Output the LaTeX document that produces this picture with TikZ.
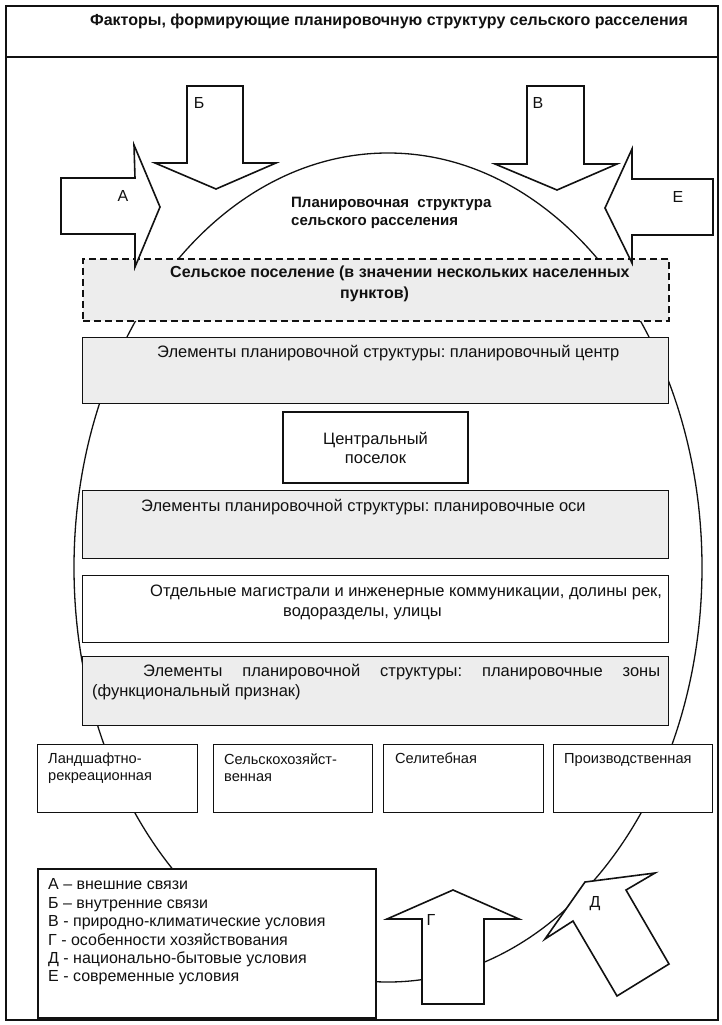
\documentclass[tikz,border=0pt]{standalone}
\usepackage{fontspec}
\setmainfont{Liberation Sans}
\frenchspacing
\usetikzlibrary{positioning}
\definecolor{ink}{HTML}{111111}
\definecolor{boxgrey}{HTML}{EDEDED}
\tikzset{
  basebox/.style={draw=ink,line width=1.2pt,fill=white,inner sep=0pt},
  greybox/.style={basebox,fill=boxgrey},
  dashbox/.style={greybox,dash pattern=on 7pt off 4pt,line width=1.8pt},
  bodytext/.style={font=\fontsize{16.5}{20}\selectfont,inner sep=0pt,text=ink},
  boldtext/.style={font=\fontsize{16}{21}\selectfont\bfseries,inner sep=0pt,text=ink},
  smalltext/.style={font=\fontsize{14.6}{17}\selectfont,inner sep=0pt,align=left,text=ink},
  blockarrow/.style={draw=ink,fill=white,line width=1.6pt,line join=miter},
  letter/.style={font=\fontsize{16}{16}\selectfont,inner sep=0pt,text=ink}
}

\begin{document}
\begin{tikzpicture}[x=1pt,y=-1pt,
    rowbox/.style={minimum width=586pt,anchor=north west},
    zonebox/.style={basebox,minimum width=160pt,minimum height=68pt,anchor=north west}
  ]
  \useasboundingbox (0,0) rectangle (722,1025);
  \fill[white] (0,0) rectangle (722,1025);

  \node[basebox,line width=1.8pt,minimum width=712pt,minimum height=1014pt,anchor=north west] (frame) at (5,5) {};
  \coordinate (ruleW) at (5,57);
  \coordinate (ruleE) at (717,57);
  \draw[ink,line width=1.8pt] (ruleW) -- (ruleE);
  \node[boldtext] (title) at (389,21) {Факторы, формирующие планировочную структуру сельского расселения};

  \draw[ink,line width=1.3pt] (388,567.5) ellipse [x radius=314,y radius=414.5];

  \node[boldtext,font=\fontsize{15}{18}\selectfont\bfseries,align=left,anchor=west] (planlabel) at (291,213) {Планировочная\ \ структура\\сельского расселения};

  \node[dashbox,rowbox,minimum height=62pt] (settlement) at (82,258) {};
  \node[boldtext,align=left,anchor=west] (settletext) at (170,283.5) {Сельское поселение (в значении нескольких населенных\\\hspace*{170pt}пунктов)};

  \node[greybox,rowbox,minimum height=66pt] (centrerow) at (82,337) {};
  \node[bodytext,anchor=west] (centretext) at (157,353) {Элементы планировочной структуры: планировочный центр};

  \node[basebox,bodytext,align=center,minimum width=185pt,minimum height=71pt] (village) at (375.5,447.5) {Центральный\\[-1pt]поселок};

  \node[greybox,rowbox,minimum height=68pt] (axesrow) at (82,490) {};
  \node[bodytext,anchor=west] (axestext) at (141,507) {Элементы планировочной структуры: планировочные оси};

  \node[basebox,rowbox,minimum height=67pt] (routes) at (82,575) {};
  \node[bodytext,align=left,anchor=west] (routestext) at (150,602) {Отдельные магистрали и инженерные коммуникации, долины рек,\\\hspace*{133pt}водоразделы, улицы};

  \node[greybox,rowbox,minimum height=69pt] (zonesrow) at (82,656) {};
  \node[bodytext,align=left,anchor=north west] (zonestext) at (92,664) {\hspace*{51pt}\makebox[517pt][s]{Элементы планировочной структуры: планировочные зоны}\\(функциональный признак)};

  \node[zonebox] (landscape) at (37,744) {};
  \node[zonebox,minimum width=159pt] (farming) at (213,744) {};
  \node[zonebox] (housing) at (383,744) {};
  \node[zonebox,minimum width=159pt] (industry) at (553,744) {};
  \node[smalltext,anchor=north west] (landtext) at (48,753) {Ландшафтно-\\рекреационная};
  \node[smalltext,anchor=north west] (farmtext) at (224,753) {Сельскохозяйст-\\венная};
  \node[smalltext,anchor=north west] (housetext) at (395,753) {Селитебная};
  \node[smalltext,anchor=north west] (indtext) at (564,753) {Производственная};

  \node[basebox,line width=1.8pt,minimum width=338pt,minimum height=149pt,anchor=north west] (legend) at (37,868) {};
  \node[bodytext,font=\fontsize{16}{18.4}\selectfont,align=left,anchor=west] (legendtext) at (48,932) {А – внешние связи\\Б – внутренние связи\\В - природно-климатические условия\\Г - особенности хозяйствования\\Д - национально-бытовые условия\\Е - современные условия};

  \draw[blockarrow] (61,178) -- (135,178) -- (134,145) -- (160,207) -- (135,267) -- (135,234) -- (61,234) -- cycle;
  \draw[blockarrow] (187,86) -- (243,86) -- (243,163) -- (276,163) -- (216,189) -- (155,163) -- (187,163) -- cycle;
  \draw[blockarrow] (527,86) -- (584,86) -- (584,164) -- (617,164) -- (557,190) -- (495,164) -- (527,164) -- cycle;
  \draw[blockarrow] (713,179) -- (632,179) -- (632,149) -- (605,208) -- (632,263) -- (632,235) -- (713,235) -- cycle;
  \draw[blockarrow] (422,1004) -- (422,919) -- (387,919) -- (453,890) -- (519,919) -- (484,919) -- (484,1004) -- cycle;
  \draw[blockarrow] (585,882) -- (655,873) -- (626,890) -- (669,964) -- (617,996) -- (573,921) -- (545,939) -- cycle;

  \node[letter] (labelA) at (123,196) {А};
  \node[letter] (labelB) at (199,103) {Б};
  \node[letter] (labelV) at (538,103) {В};
  \node[letter] (labelE) at (678,197) {Е};
  \node[letter] (labelG) at (431,920) {Г};
  \node[letter] (labelD) at (595,904) {Д};
\end{tikzpicture}
\end{document}
